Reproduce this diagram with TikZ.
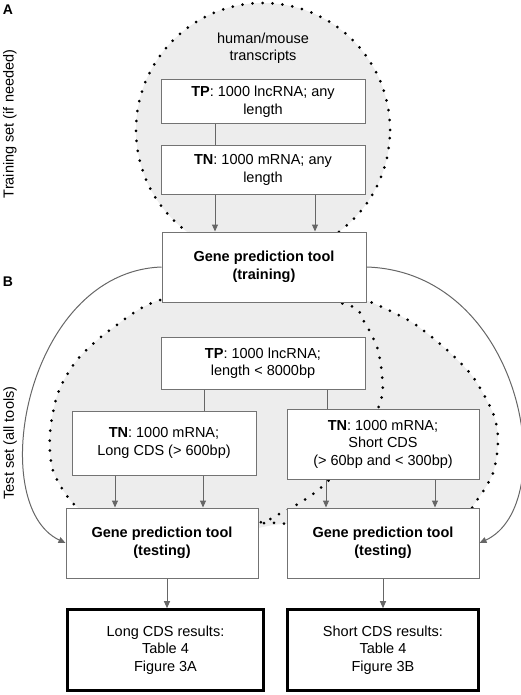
\documentclass[tikz,border=0pt]{standalone}
\usepackage{fontspec}
\setmainfont{Liberation Sans}
\usetikzlibrary{calc,arrows.meta}

\tikzset{
  txt/.style={font=\fontsize{14.5}{17.5}\selectfont,align=center,inner sep=0pt},
  setbox/.style={txt,draw=black!55,fill=white,line width=1pt,minimum width=204pt},
  resbox/.style={setbox,draw=black,line width=2.6pt},
  link/.style={draw=black!60,line width=1pt},
  arr/.style={link,-{Triangle[length=7pt,width=6pt]}},
  dots/.style={line width=3pt,dash pattern=on 0pt off 10pt,line cap=round},
  region/.style={fill=black!7},
}

\begin{document}
\begin{tikzpicture}[x=1pt,y=-1pt]
\useasboundingbox (0,0) rectangle (520,695);
% training set region
\fill[region] (263,130) circle (127pt);
\draw[dots] (263,130) circle (127pt);
% test set regions
\fill[region] plot[smooth] coordinates {(340,292) (373,303) (413,323) (447,350) (473,377) (493,413) (498,440) (493,473) (475,503) (440,545) (320,535) (286,524) (250,530)} -- cycle;
\fill[region] plot[smooth cycle] coordinates {(255,288) (160,300) (110,330) (77,360) (58,393) (50,433) (52,467) (65,493) (85,512) (160,545) (258,523) (279,514) (298,504) (324,485) (360,445) (381,400) (382,375) (377,347) (363,320) (348,305)};
\draw[dots] plot[smooth cycle] coordinates {(255,288) (160,300) (110,330) (77,360) (58,393) (50,433) (52,467) (65,493) (85,512) (160,545) (258,523) (279,514) (298,504) (324,485) (360,445) (381,400) (382,375) (377,347) (363,320) (348,305)};
\draw[dots] plot[smooth] coordinates {(264,523) (286,524) (320,535) (440,545) (475,503) (493,473) (498,440) (493,413) (473,377) (447,350) (413,323) (373,303) (340,292)};

\node[txt,font=\fontsize{14}{17}\selectfont\bfseries] (lblA) at (8,10) {A};
\node[txt,font=\fontsize{14}{17}\selectfont\bfseries] (lblB) at (8,282) {B};
\node[txt,rotate=90] (lblTrain) at (10,124) {Training set (if needed)};
\node[txt,rotate=90] (lblTest) at (10,443) {Test set (all tools)};

% training
\node[txt] (src) at (263,48.5) {human/mouse\\transcripts};
\node[setbox,minimum height=44pt] (tpA) at (263,102) {\textbf{TP}: 1000 lncRNA; any\\length};
\node[setbox,minimum height=48pt] (tnA) at (263,170) {\textbf{TN}: 1000 mRNA; any\\length};
\node[setbox,minimum height=70pt] (train) at (264,267) {\textbf{Gene prediction tool}\\\textbf{(training)}};
\draw[link] ($(tpA.south)+(-48,0)$) coordinate (p1) -- (p1 |- tnA.north);
\draw[arr] ($(tnA.south)+(-48,0)$) coordinate (p2) -- (p2 |- train.north);
\draw[arr] ($(tnA.south)+(52,0)$) coordinate (p3) -- (p3 |- train.north);

% testing
\node[setbox,minimum height=52pt] (tpB) at (263,363) {\textbf{TP}: 1000 lncRNA;\\length < 8000bp};
\node[setbox,minimum width=184pt,minimum height=64pt] (tnLong) at (164,443) {\textbf{TN}: 1000 mRNA;\\Long CDS (> 600bp)};
\node[setbox,minimum width=192pt,minimum height=70pt] (tnShort) at (383,444) {\textbf{TN}: 1000 mRNA;\\Short CDS\\(> 60bp and < 300bp)};
\node[setbox,minimum width=192pt,minimum height=70pt] (testL) at (162,543) {\textbf{Gene prediction tool}\\\textbf{(testing)}};
\node[setbox,minimum width=192pt,minimum height=70pt] (testR) at (383,543) {\textbf{Gene prediction tool}\\\textbf{(testing)}};
\node[resbox,minimum width=196pt,minimum height=81pt] (resL) at (165.5,650) {Long CDS results:\\Table 4\\Figure 3A};
\node[resbox,minimum width=191pt,minimum height=81pt] (resR) at (383,650) {Short CDS results:\\Table 4\\Figure 3B};

\draw[link] ($(tpB.south)+(-59,0)$) coordinate (q1) -- (q1 |- tnLong.north);
\draw[link] ($(tpB.south)+(64,0)$) coordinate (q2) -- (q2 |- tnShort.north);
\draw[arr] ($(tnLong.south)+(-49,0)$) coordinate (q3) -- (q3 |- testL.north);
\draw[arr] ($(tnLong.south)+(39,0)$) coordinate (q4) -- (q4 |- testL.north);
\draw[arr] ($(tnShort.south)+(-57,0)$) coordinate (q5) -- (q5 |- testR.north);
\draw[arr] ($(tnShort.south)+(52,0)$) coordinate (q6) -- (q6 |- testR.north);
\draw[arr] ($(testL.south)+(5,0)$) coordinate (q7) -- (q7 |- resL.north);
\draw[arr] (testR.south) -- (resR.north);

\draw[arr] (train.west) .. controls (25,272) and (-15,505) .. (testL.west);
\draw[arr] (train.east) .. controls (524,272) and (562,505) .. (testR.east);
\end{tikzpicture}
\end{document}
